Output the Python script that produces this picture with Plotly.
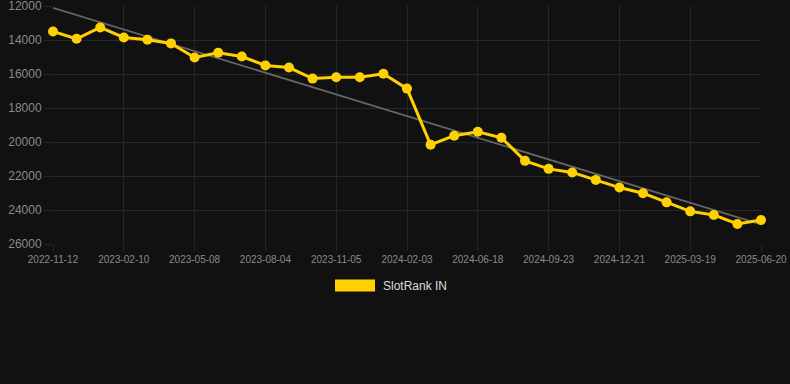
import numpy as np
import plotly.graph_objects as go

dates = [
    "2022-11-12", "2022-12-12", "2023-01-11", "2023-02-10", "2023-03-11", "2023-04-09",
    "2023-05-08", "2023-06-06", "2023-07-05", "2023-08-04", "2023-09-04", "2023-10-05",
    "2023-11-05", "2023-12-05", "2024-01-04", "2024-02-03", "2024-03-18", "2024-05-02",
    "2024-06-18", "2024-07-20", "2024-08-21", "2024-09-23", "2024-10-23", "2024-11-21",
    "2024-12-21", "2025-01-19", "2025-02-17", "2025-03-19", "2025-04-19", "2025-05-20",
    "2025-06-20",
]
ranks = [
    13500, 13930, 13260, 13850, 13990, 14200, 15030, 14750, 14970, 15500, 15620,
    16270, 16190, 16190, 15990, 16860, 20160, 19630, 19400, 19750, 21110, 21580,
    21790, 22230, 22680, 23010, 23550, 24080, 24290, 24820, 24590,
]
tick_labels = dates[::3]
y_ticks = [12000, 14000, 16000, 18000, 20000, 22000, 24000, 26000]
y_tick_text = [str(v) for v in y_ticks]
series_name = "SlotRank IN"

idx = np.arange(len(ranks))
slope, intercept = np.polyfit(idx, ranks, 1)
trend = slope * idx + intercept

BG = "#111111"
GRID = "#262626"
TXT = "#8a8a8a"
GOLD = "#FFD100"

fig = go.Figure()
fig.add_trace(go.Scatter(
    x=dates, y=trend, mode="lines",
    line=dict(color="#666666", width=1.8),
    hoverinfo="skip", showlegend=False, cliponaxis=False,
))
fig.add_trace(go.Scatter(
    x=dates, y=ranks, mode="lines+markers", name=series_name,
    line=dict(color=GOLD, width=3),
    marker=dict(color=GOLD, size=10),
    showlegend=False, cliponaxis=False,
))

fig.update_layout(
    width=790, height=384,
    paper_bgcolor=BG, plot_bgcolor=BG,
    margin=dict(l=53, r=29, t=6, b=140),
    font=dict(family="Liberation Sans, Arial, sans-serif", color=TXT),
    xaxis=dict(
        type="category", range=[0, len(dates) - 1],
        tickmode="array", tickvals=tick_labels, ticktext=tick_labels,
        showgrid=True, gridcolor=GRID, gridwidth=1,
        ticks="outside", ticklen=6, tickcolor=GRID,
        tickfont=dict(size=10, color=TXT),
        showline=False, zeroline=False, automargin=False,
        ticklabeloverflow="allow",
    ),
    yaxis=dict(
        range=[26000, 12000], tickmode="array",
        tickvals=y_ticks, ticktext=y_tick_text,
        showgrid=True, gridcolor=GRID, gridwidth=1,
        ticks="outside", ticklen=8, tickcolor=GRID,
        tickfont=dict(size=12, color=TXT),
        showline=False, zeroline=False, automargin=False,
        ticklabeloverflow="allow",
    ),
    shapes=[
        dict(type="rect", xref="paper", yref="paper",
             x0=(335 - 53) / 708, x1=(375 - 53) / 708,
             y0=(243.5 - 291) / 237.5, y1=(243.5 - 279) / 237.5,
             fillcolor=GOLD, line=dict(width=0)),
    ],
    annotations=[
        dict(text=series_name, xref="paper", yref="paper",
             x=(381 - 53) / 708, y=(243.5 - 285) / 237.5,
             xanchor="left", yanchor="middle", showarrow=False,
             font=dict(size=12, color="#dddddd")),
    ],
)

fig.write_html("out.html", config={"displayModeBar": False})
with open("out.html", encoding="utf-8") as f:
    html = f.read()
html = html.replace("<body>", '<body style="margin:0;padding:0;background:#111111;overflow:hidden">', 1)
with open("out.html", "w", encoding="utf-8") as f:
    f.write(html)
